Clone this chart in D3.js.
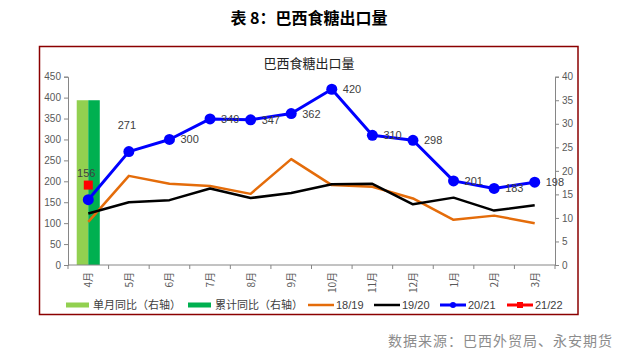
<!DOCTYPE html>
<html><head><meta charset="utf-8">
<script src="https://cdn.jsdelivr.net/npm/d3@7"></script>
<style>
body{margin:0;background:#fff;}
svg{display:block;font-family:"Noto Sans CJK SC","Noto Sans",sans-serif;}
</style></head>
<body><svg id="c" width="617" height="357"></svg>
<script>
const months = ["4月","5月","6月","7月","8月","9月","10月","11月","12月","1月","2月","3月"];
const monthYoY = [35,null,null,null,null,null,null,null,null,null,null,null];
const cumYoY   = [35,null,null,null,null,null,null,null,null,null,null,null];
const s1819 = [103,213,194,189,170,253,191,187,159,108,118,100];
const s1920 = [123,150,155,183,160,172,193,194,145,161,130,143];
const s2021 = [156,271,300,349,347,362,420,310,298,201,183,198];
const s2122 = [191,null,null,null,null,null,null,null,null,null,null,null];
const leftTicks = [0,50,100,150,200,250,300,350,400,450];
const rightTicks = [0,5,10,15,20,25,30,35,40];

const svg = d3.select("#c");
const L=68, R=555, T=76.7, B=265;
const x = d3.scaleBand().domain(months).range([L,R]).padding(0);
const bw = x.bandwidth();
const yL = d3.scaleLinear().domain([0,450]).range([B,T]);
const yR = d3.scaleLinear().domain([0,40]).range([B,T]);
const axisCol="#868686", tickTxt="#595959";

// titles
svg.append("text").attr("x",309).attr("y",24).attr("text-anchor","middle")
  .attr("font-size",16).attr("font-weight","bold").attr("fill","#000").text("表 8：巴西食糖出口量");
svg.append("rect").attr("x",39.5).attr("y",46.5).attr("width",538.5).attr("height",268)
  .attr("fill","none").attr("stroke","#8B0000").attr("stroke-width",1.5);
svg.append("text").attr("x",309).attr("y",68).attr("text-anchor","middle")
  .attr("font-size",13).attr("fill","#222").text("巴西食糖出口量");

// bars
const x1 = d3.scaleBand().domain(["m","c"]).range([bw*0.215,bw*0.783]).padding(0);
const barSeries=[{k:"m",v:monthYoY,c:"#92D050"},{k:"c",v:cumYoY,c:"#00B050"}];
barSeries.forEach(s=>{
  svg.append("g").selectAll("rect").data(months.map((m,i)=>({m,v:s.v[i]})).filter(d=>d.v!=null))
    .join("rect").attr("x",d=>x(d.m)+x1(s.k)).attr("width",x1.bandwidth())
    .attr("y",d=>yR(d.v)).attr("height",d=>yR(0)-yR(d.v)).attr("fill",s.c);
});

// axes
const gL = svg.append("g").attr("transform",`translate(${L},0)`)
  .call(d3.axisLeft(yL).tickValues(leftTicks).tickSize(4).tickPadding(3));
const gR = svg.append("g").attr("transform",`translate(${R},0)`)
  .call(d3.axisRight(yR).tickValues(rightTicks).tickSize(4).tickPadding(3));
[gL,gR].forEach(g=>{
  g.select(".domain").attr("stroke",axisCol);
  g.selectAll(".tick line").attr("stroke",axisCol);
  g.selectAll(".tick text").attr("fill",tickTxt).attr("font-size",10).attr("font-family","Liberation Sans, sans-serif");
});
const gX = svg.append("g").attr("transform",`translate(0,${B})`);
gX.append("line").attr("x1",L).attr("x2",R).attr("stroke",axisCol);
gX.selectAll("line.t").data(months.concat(["end"])).join("line").attr("class","t")
  .attr("x1",(d,i)=>L+i*bw).attr("x2",(d,i)=>L+i*bw).attr("y1",0).attr("y2",4).attr("stroke",axisCol);
gX.selectAll("text").data(months).join("text")
  .attr("transform",d=>`translate(${x(d)+bw/2+4},7) rotate(-90)`)
  .attr("text-anchor","end").attr("font-size",10).attr("fill",tickTxt).text(d=>d);

// lines
const cx = m=>x(m)+bw/2;
function drawLine(vals,color,w){
  const line=d3.line().defined(d=>d.v!=null).x(d=>cx(d.m)).y(d=>yL(d.v));
  svg.append("path").datum(months.map((m,i)=>({m,v:vals[i]})))
    .attr("d",line).attr("fill","none").attr("stroke",color).attr("stroke-width",w).attr("stroke-linejoin","round");
}
drawLine(s1819,"#E46C0A",2.5);
drawLine(s1920,"#000000",2.5);
drawLine(s2021,"#0000FF",3);
svg.append("g").selectAll("circle").data(months.map((m,i)=>({m,v:s2021[i]})))
  .join("circle").attr("cx",d=>cx(d.m)).attr("cy",d=>yL(d.v)).attr("r",5.5).attr("fill","#0000FF");
svg.append("g").selectAll("rect").data(months.map((m,i)=>({m,v:s2122[i]})).filter(d=>d.v!=null))
  .join("rect").attr("x",d=>cx(d.m)-4.5).attr("y",d=>yL(d.v)-4.5).attr("width",9).attr("height",9).attr("fill","#FF0000");

// data labels
const labelAbove = new Set([0,1]);
svg.append("g").selectAll("text").data(months.map((m,i)=>({m,v:s2021[i],i})))
  .join("text")
  .attr("x",d=>labelAbove.has(d.i)?cx(d.m)-2:cx(d.m)+11)
  .attr("y",d=>labelAbove.has(d.i)?yL(d.v)-23:yL(d.v)+4)
  .attr("text-anchor",d=>labelAbove.has(d.i)?"middle":"start")
  .attr("font-size",11).attr("fill","#404040").attr("font-family","Liberation Sans, sans-serif")
  .text(d=>d.v);

// legend
const ly=305;
const lg=svg.append("g").attr("font-size",11).attr("fill","#404040");
const legend=[
  {t:"单月同比（右轴）",type:"bar",c:"#92D050",x:66},
  {t:"累计同比（右轴）",type:"bar",c:"#00B050",x:188},
  {t:"18/19",type:"line",c:"#E46C0A",x:308},
  {t:"19/20",type:"line",c:"#000000",x:374},
  {t:"20/21",type:"circle",c:"#0000FF",x:440},
  {t:"21/22",type:"square",c:"#FF0000",x:507}
];
legend.forEach(d=>{
  if(d.type==="bar"){
    lg.append("rect").attr("x",d.x).attr("y",ly-2.5).attr("width",23).attr("height",5).attr("fill",d.c);
    lg.append("text").attr("x",d.x+27).attr("y",ly+4).attr("fill","#404040").text(d.t);
  } else {
    lg.append("line").attr("x1",d.x).attr("x2",d.x+26).attr("y1",ly).attr("y2",ly).attr("stroke",d.c).attr("stroke-width",d.type==="line"?2.5:3);
    if(d.type==="circle") lg.append("circle").attr("cx",d.x+13).attr("cy",ly).attr("r",3).attr("fill",d.c);
    if(d.type==="square") lg.append("rect").attr("x",d.x+10).attr("y",ly-3).attr("width",6).attr("height",6).attr("fill",d.c);
    lg.append("text").attr("x",d.x+28).attr("y",ly+4).attr("fill","#404040").attr("font-family","Liberation Sans, sans-serif").text(d.t);
  }
});

svg.append("text").attr("x",613).attr("y",346).attr("text-anchor","end")
  .attr("font-size",14).attr("fill","#8c8c8c").attr("letter-spacing",1).text("数据来源：巴西外贸局、永安期货");
</script></body></html>
